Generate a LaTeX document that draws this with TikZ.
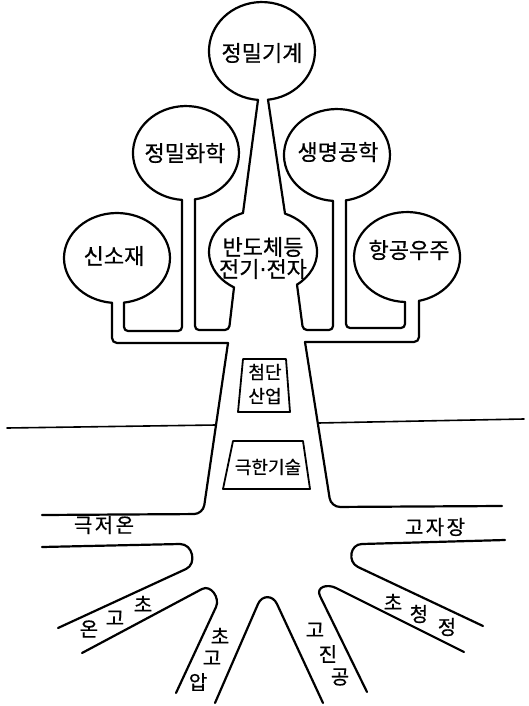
\documentclass[tikz,border=0pt]{standalone}
\usepackage{fontspec}
\newfontfamily\kr[FakeBold=0.6]{Noto Sans CJK KR}
\newfontfamily\krs[LetterSpace=12,FakeBold=0.6]{Noto Sans CJK KR}
\newfontfamily\dvs[FakeBold=0.6]{DejaVu Sans}
\newcommand\mdot{{\dvs ·}}
\usetikzlibrary{calc}
\tikzset{
  ol/.style={line width=2.2pt, line cap=round, line join=round},
  gl/.style={line width=1.6pt, line cap=round},
  bx/.style={line width=1.8pt, line join=round},
  lbl/.style={inner sep=0pt, font=\kr\fontsize{22}{24}\selectfont},
  blbl/.style={inner sep=0pt, align=center, font=\kr\fontsize{22}{22}\selectfont},
  rlbl/.style={inner sep=0pt, font=\krs\fontsize{20}{22}\selectfont},
  clbl/.style={inner sep=0pt, font=\kr\fontsize{20}{20}\selectfont},
  klbl/.style={inner sep=0pt, font=\kr\fontsize{18}{20}\selectfont},
  xlbl/.style={inner sep=0pt, align=center, font=\kr\fontsize{18}{24}\selectfont},
}
\begin{document}
\begin{tikzpicture}[x=1pt,y=-1pt]
\useasboundingbox (0,0) rectangle (528,706);
% ---- crown outline ----
\draw[ol,rounded corners=9pt] (42,515) -- (203,514) -- (228,343);
\draw[ol,rounded corners=5pt] (228,343) -- (112,343) -- (112,302.8);
\draw[ol] (112,302.8) arc[start angle=95.4, end angle=442.4, x radius=53, y radius=45];
\draw[ol,rounded corners=4pt] (124,302.6) -- (124,331) -- (182,331) -- (182,199.9);
\draw[ol] (182,199.9) arc[start angle=94.3, end angle=440.2, x radius=53, y radius=47];
\draw[ol,rounded corners=4pt] (195,199.3) -- (195,330) -- (229,330) -- (234,287.4);
\draw[ol] (234,287.4) arc[start angle=122.5, end angle=248.3, x radius=54, y radius=42];
\draw[ol] (243,213) -- (258,99.9);
\draw[ol] (258,99.9) arc[start angle=94.3, end angle=443.5, x radius=53, y radius=49];
\draw[ol] (268,99.7) -- (285,213.6);
\draw[ol] (285,213.6) arc[start angle=294, end angle=411, x radius=54, y radius=42];
\draw[ol,rounded corners=4pt] (297,284.6) -- (303,330) -- (333,330) -- (333,200.9);
\draw[ol] (333,200.9) arc[start angle=94.3, end angle=440.2, x radius=53, y radius=46];
\draw[ol,rounded corners=4pt] (346,200.3) -- (346,328) -- (405,328) -- (405,302);
\draw[ol] (405,302) arc[start angle=92.2, end angle=436.9, x radius=53, y radius=45];
\draw[ol,rounded corners=5pt] (419,300.8) -- (419,342) -- (305,342);
\draw[ol,rounded corners=9pt] (305,342) -- (331,507) -- (502,506);
% ---- roots ----
\draw[ol] (42,547) -- (180,544) .. controls (193,544) and (197,564) .. (186,569) -- (58,628);
\draw[ol] (82,653) -- (202,589) .. controls (210.8,584.3) and (220.2,597.9) .. (216,607) -- (176,693);
\draw[ol] (215,703) -- (258,604) .. controls (262,594.8) and (272.8,594.9) .. (277,604) -- (323,703);
\draw[ol] (367,692) -- (320,596) .. controls (315.6,587) and (327.1,583.5) .. (336,588) -- (464,652);
\draw[ol] (483,626) -- (358,567) .. controls (347.2,561.9) and (350,544) .. (362,544) -- (505,540);
% ---- ground ----
\draw[gl] (7,428) -- (216,425);
\draw[gl] (318,423) -- (524,419);
% ---- boxes ----
\draw[bx] (243,359) -- (286,359) -- (290,412) -- (238,412) -- cycle;
\draw[bx] (233,441) -- (303,441) -- (310,489) -- (223,489) -- cycle;
% ---- labels ----
\node[lbl] (c1) at (262,53) {정밀기계};
\node[lbl] (c2) at (185,153) {정밀화학};
\node[lbl] (c3) at (338,152) {생명공학};
\node[lbl] (c4) at (114,256) {신소재};
\node[lbl] (c5) at (409,250) {항공우주};
\node[blbl] (c6) at (263,258) {반도체등\\전기\mdot 전자};
\node[xlbl] (b1) at (265,384) {첨단\\산업};
\node[klbl] (b2) at (268,467) {극한기술};
\node[rlbl] (r1) at (104,525) {극저온};
\node[rlbl] (r2) at (435,527) {고자장};
\node[clbl] (r3a) at (143,604) {초};
\node[clbl] (r3b) at (115,618) {고};
\node[clbl] (r3c) at (89,629) {온};
\node[clbl] (r4a) at (220,636) {초};
\node[clbl] (r4b) at (212,658) {고};
\node[clbl] (r4c) at (198,682) {압};
\node[clbl] (r5a) at (315,630) {고};
\node[clbl] (r5b) at (328,654) {진};
\node[clbl] (r5c) at (340,677) {공};
\node[clbl] (r6a) at (393,602) {초};
\node[clbl] (r6b) at (419,614) {청};
\node[clbl] (r6c) at (447,627) {정};
\end{tikzpicture}
\end{document}
